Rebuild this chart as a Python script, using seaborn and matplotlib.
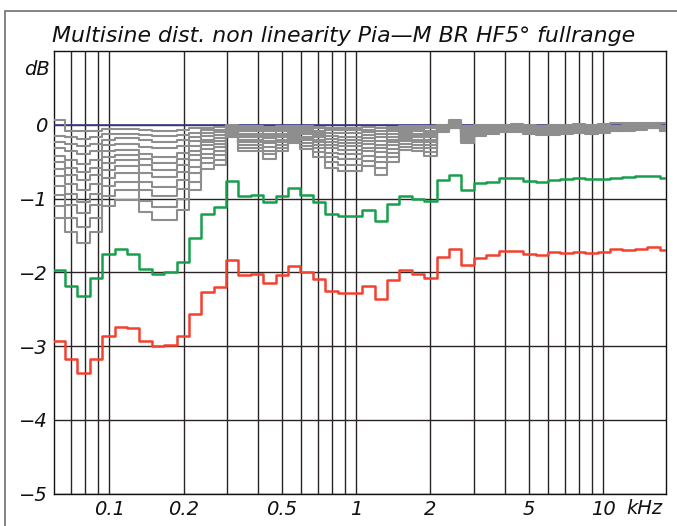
import matplotlib
matplotlib.use("Agg")
import matplotlib.pyplot as plt
import seaborn as sns
import pandas as pd
from matplotlib.patches import Rectangle

sns.set_style("white")
plt.rcParams["font.family"] = ["DejaVu Sans"]
plt.rcParams["font.style"] = "italic"

# 1/6-octave band edges in kHz
band_edges = [0.05898, 0.0662, 0.07431, 0.08341, 0.09362, 0.1051, 0.1180, 0.1324,
              0.1486, 0.1668, 0.1873, 0.2102, 0.2360, 0.2648, 0.2973, 0.3337,
              0.3745, 0.4204, 0.4719, 0.5296, 0.5945, 0.6673, 0.7490, 0.8408,
              0.9438, 1.059, 1.189, 1.335, 1.498, 1.682, 1.888, 2.119, 2.378,
              2.670, 2.997, 3.364, 3.776, 4.237, 4.756, 5.339, 5.993, 6.727,
              7.550, 8.475, 9.513, 10.68, 11.99, 13.45, 15.10, 16.95, 19.03]

# reference level (0 dB) per band
reference = [0.0] * 50

# lower drive levels (grey), smallest deviation first
grey_levels = [
    [0.07, -0.08, -0.09, -0.08, -0.06, -0.06, -0.06, -0.07, -0.08, -0.08,
     -0.07, -0.05, -0.04, -0.03, 0.00, -0.02, -0.02, -0.03, -0.02, -0.02,
     -0.02, -0.03, -0.04, -0.04, -0.04, -0.03, -0.04, -0.03, -0.02, -0.02,
     -0.02, 0.00, 0.07, -0.01, 0.00, 0.00, 0.00, 0.01, 0.00, -0.01,
     0.00, 0.00, 0.01, 0.00, 0.01, 0.02, 0.02, 0.02, 0.03, 0.02],
    [-0.15, -0.17, -0.19, -0.17, -0.13, -0.12, -0.12, -0.14, -0.15, -0.15,
     -0.14, -0.11, -0.07, -0.07, -0.02, -0.04, -0.04, -0.06, -0.04, -0.03,
     -0.04, -0.05, -0.07, -0.07, -0.07, -0.07, -0.08, -0.06, -0.04, -0.04,
     -0.05, -0.01, 0.05, -0.03, -0.02, -0.01, -0.01, -0.01, -0.02, -0.02,
     -0.02, -0.02, -0.01, -0.01, -0.01, -0.01, 0.00, 0.00, 0.01, -0.01],
    [-0.23, -0.26, -0.29, -0.26, -0.20, -0.18, -0.18, -0.21, -0.23, -0.23,
     -0.21, -0.16, -0.11, -0.10, -0.03, -0.06, -0.06, -0.08, -0.06, -0.05,
     -0.06, -0.08, -0.11, -0.11, -0.11, -0.10, -0.12, -0.09, -0.06, -0.06,
     -0.08, -0.02, 0.04, -0.05, -0.03, -0.02, -0.02, -0.02, -0.02, -0.03,
     -0.03, -0.02, -0.02, -0.02, -0.02, -0.02, -0.01, -0.01, -0.01, -0.02],
    [-0.32, -0.36, -0.40, -0.36, -0.28, -0.26, -0.26, -0.30, -0.32, -0.32,
     -0.29, -0.22, -0.15, -0.14, -0.04, -0.09, -0.09, -0.12, -0.09, -0.06,
     -0.08, -0.11, -0.15, -0.16, -0.16, -0.14, -0.17, -0.13, -0.09, -0.09,
     -0.11, -0.03, 0.02, -0.06, -0.04, -0.03, -0.03, -0.03, -0.03, -0.04,
     -0.04, -0.03, -0.03, -0.03, -0.03, -0.02, -0.02, -0.02, -0.01, -0.02],
    [-0.42, -0.48, -0.53, -0.48, -0.36, -0.34, -0.34, -0.39, -0.43, -0.43,
     -0.38, -0.29, -0.20, -0.18, -0.05, -0.12, -0.12, -0.15, -0.12, -0.08,
     -0.11, -0.14, -0.19, -0.20, -0.20, -0.18, -0.22, -0.17, -0.11, -0.12,
     -0.14, -0.03, 0.00, -0.08, -0.05, -0.04, -0.03, -0.03, -0.04, -0.05,
     -0.05, -0.04, -0.04, -0.04, -0.04, -0.03, -0.03, -0.02, -0.02, -0.03],
    [-0.51, -0.58, -0.64, -0.58, -0.44, -0.41, -0.41, -0.47, -0.52, -0.52,
     -0.46, -0.35, -0.24, -0.22, -0.06, -0.14, -0.14, -0.18, -0.14, -0.10,
     -0.13, -0.17, -0.24, -0.25, -0.25, -0.22, -0.27, -0.20, -0.14, -0.14,
     -0.17, -0.04, -0.02, -0.10, -0.06, -0.05, -0.04, -0.04, -0.05, -0.06,
     -0.06, -0.05, -0.04, -0.05, -0.04, -0.04, -0.03, -0.03, -0.02, -0.04],
    [-0.60, -0.68, -0.75, -0.68, -0.52, -0.48, -0.48, -0.55, -0.61, -0.61,
     -0.55, -0.41, -0.28, -0.26, -0.08, -0.17, -0.17, -0.22, -0.17, -0.12,
     -0.16, -0.20, -0.28, -0.29, -0.29, -0.26, -0.32, -0.24, -0.16, -0.17,
     -0.20, -0.05, -0.02, -0.12, -0.07, -0.06, -0.05, -0.05, -0.06, -0.07,
     -0.07, -0.06, -0.05, -0.06, -0.05, -0.04, -0.04, -0.03, -0.02, -0.04],
    [-0.70, -0.80, -0.88, -0.80, -0.61, -0.56, -0.56, -0.65, -0.71, -0.71,
     -0.64, -0.48, -0.33, -0.30, -0.09, -0.20, -0.20, -0.25, -0.20, -0.14,
     -0.18, -0.24, -0.32, -0.34, -0.34, -0.31, -0.37, -0.28, -0.19, -0.20,
     -0.23, -0.06, -0.03, -0.14, -0.08, -0.07, -0.06, -0.06, -0.07, -0.08,
     -0.08, -0.07, -0.06, -0.07, -0.06, -0.05, -0.04, -0.04, -0.03, -0.05],
    [-0.83, -0.94, -1.04, -0.94, -0.72, -0.66, -0.66, -0.77, -0.84, -0.84,
     -0.75, -0.57, -0.39, -0.36, -0.10, -0.23, -0.23, -0.30, -0.23, -0.16,
     -0.21, -0.28, -0.38, -0.40, -0.40, -0.36, -0.44, -0.33, -0.22, -0.23,
     -0.27, -0.07, -0.03, -0.16, -0.10, -0.08, -0.07, -0.07, -0.08, -0.09,
     -0.09, -0.08, -0.07, -0.08, -0.07, -0.06, -0.05, -0.05, -0.03, -0.06],
    [-0.95, -1.09, -1.20, -1.09, -0.83, -0.77, -0.77, -0.89, -0.97, -0.97,
     -0.87, -0.66, -0.45, -0.41, -0.12, -0.27, -0.27, -0.35, -0.27, -0.19,
     -0.25, -0.32, -0.44, -0.47, -0.47, -0.42, -0.51, -0.38, -0.26, -0.27,
     -0.32, -0.08, -0.04, -0.19, -0.11, -0.09, -0.08, -0.08, -0.10, -0.11,
     -0.11, -0.10, -0.08, -0.09, -0.08, -0.07, -0.06, -0.05, -0.04, -0.07],
    [-1.10, -1.26, -1.39, -1.26, -0.96, -0.89, -0.89, -1.03, -1.12, -1.12,
     -1.01, -0.77, -0.52, -0.48, -0.14, -0.31, -0.31, -0.40, -0.31, -0.22,
     -0.29, -0.37, -0.51, -0.54, -0.54, -0.49, -0.59, -0.44, -0.30, -0.31,
     -0.37, -0.09, -0.04, -0.22, -0.13, -0.10, -0.09, -0.09, -0.11, -0.12,
     -0.12, -0.11, -0.10, -0.10, -0.10, -0.08, -0.07, -0.06, -0.04, -0.08],
    [-1.27, -1.45, -1.60, -1.45, -1.10, -1.02, -1.02, -1.18, -1.29, -1.29,
     -1.16, -0.88, -0.60, -0.55, -0.16, -0.36, -0.36, -0.46, -0.36, -0.25,
     -0.33, -0.43, -0.59, -0.62, -0.62, -0.56, -0.68, -0.50, -0.34, -0.36,
     -0.42, -0.10, -0.05, -0.25, -0.15, -0.12, -0.10, -0.10, -0.13, -0.14,
     -0.14, -0.13, -0.11, -0.12, -0.11, -0.09, -0.08, -0.07, -0.05, -0.09],
]

# second highest drive level (green)
level_green = [-1.97, -2.19, -2.32, -2.07, -1.75, -1.68, -1.75, -1.95, -2.02, -2.00,
               -1.86, -1.53, -1.21, -1.12, -0.76, -0.96, -0.95, -1.05, -0.97, -0.86,
               -0.95, -1.05, -1.21, -1.24, -1.24, -1.15, -1.30, -1.08, -0.96, -1.00,
               -1.03, -0.75, -0.68, -0.88, -0.79, -0.77, -0.72, -0.72, -0.76, -0.77,
               -0.75, -0.74, -0.72, -0.74, -0.74, -0.72, -0.71, -0.70, -0.69, -0.72]

# highest drive level (red)
level_red = [-2.93, -3.18, -3.37, -3.17, -2.86, -2.74, -2.76, -2.93, -3.00, -2.99,
             -2.86, -2.56, -2.26, -2.20, -1.83, -2.03, -2.02, -2.15, -2.04, -1.91,
             -1.99, -2.09, -2.25, -2.28, -2.28, -2.19, -2.36, -2.11, -1.97, -2.02,
             -2.07, -1.79, -1.69, -1.90, -1.80, -1.77, -1.71, -1.71, -1.75, -1.77,
             -1.73, -1.74, -1.72, -1.74, -1.72, -1.69, -1.70, -1.69, -1.65, -1.70]

grid_freqs = [0.07, 0.08, 0.09, 0.1, 0.2, 0.3, 0.4, 0.5, 0.6, 0.7, 0.8, 0.9,
              1, 2, 3, 4, 5, 6, 7, 8, 9, 10]
freq_labels = {0.1: "0.1", 0.2: "0.2", 0.5: "0.5", 1: "1", 2: "2", 5: "5", 10: "10"}
db_ticks = [0, -1, -2, -3, -4, -5]
db_labels = ["0", "\u22121", "\u22122", "\u22123", "\u22124", "\u22125"]

W, H = 677, 526
fig = plt.figure(figsize=(W / 100, H / 100), dpi=100)
ax = fig.add_axes([54.3 / W, 1 - 493.7 / H, (665.7 - 54.3) / W, (493.7 - 51) / H])


def stair(values, color, lw, z):
    df = pd.DataFrame({"f": band_edges, "dB": list(values) + [values[-1]]})
    sns.lineplot(data=df, x="f", y="dB", ax=ax, color=color, linewidth=lw,
                 drawstyle="steps-post", estimator=None, sort=False, zorder=z)


stair(reference, "#3c3a8c", 1.2, 3)
for curve in grey_levels:
    stair(curve, "#8e8e8e", 1.5, 4)
stair(level_green, "#17a04c", 1.8, 5)
stair(level_red, "#f2412e", 1.8, 6)

ax.set_xscale("log")
ax.set_xlim(0.05987, 17.95)
ax.set_ylim(-5, 1)
ax.set_xticks(grid_freqs)
ax.set_xticklabels([freq_labels.get(f, "") for f in grid_freqs])
ax.xaxis.set_minor_locator(matplotlib.ticker.NullLocator())
ax.set_yticks(db_ticks)
ax.set_yticklabels(db_labels)
ax.tick_params(axis="both", length=0, labelsize=14, colors="#111111")
ax.tick_params(axis="x", pad=4.5)
ax.tick_params(axis="y", pad=5)
ax.grid(True, which="major", color="#2b2424", linewidth=1.0, zorder=1)
ax.set_axisbelow(True)
ax.set_xlabel("")
ax.set_ylabel("")
for s in ax.spines.values():
    s.set_visible(True)
    s.set_color("#111111")
    s.set_linewidth(1.0)

fig.text(52 / W, 1 - 36 / H, "Multisine dist. non linearity Pia\u2014M BR HF5\u00b0 fullrange",
         fontsize=15.8, ha="left", va="center", color="#111111")
fig.text(50 / W, 1 - 69 / H, "dB", fontsize=14, ha="right", va="center", color="#111111")
fig.text(626 / W, 1 - 509 / H, "kHz", fontsize=14, ha="left", va="center", color="#111111")

# outer frame (top and left edges visible)
fig.patches.append(Rectangle((5 / W, -0.1), 1.2, 1 - 11 / H + 0.1,
                             transform=fig.transFigure, fill=False,
                             edgecolor="#6e6e6e", linewidth=1.2))

fig.savefig("out.png", dpi=100)
